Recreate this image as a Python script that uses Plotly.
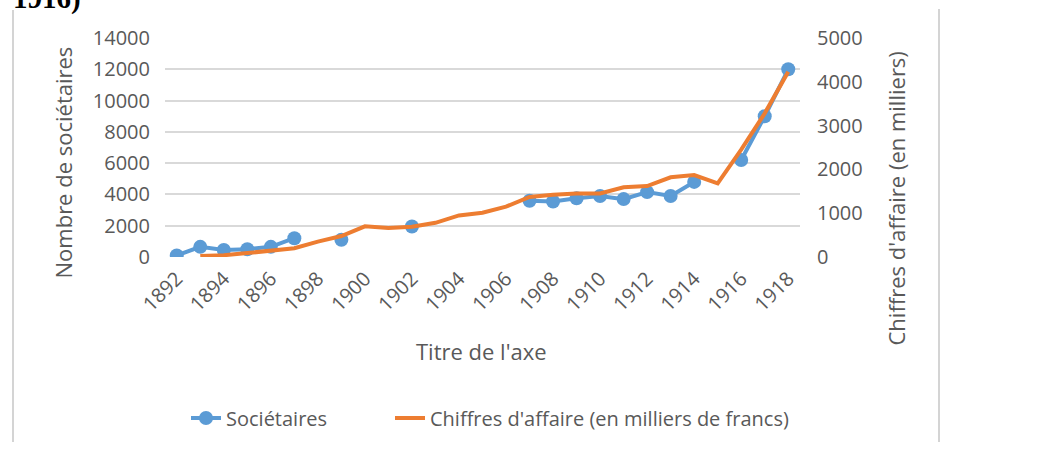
import plotly.graph_objects as go

years = list(range(1892, 1919))
societaires = [100, 650, 450, 500, 650, 1200, None, 1100, None, None, 1950,
               None, None, None, None, 3600, 3550, 3750, 3900, 3700, 4150,
               3900, 4800, None, 6200, 9000, 12000]
chiffres = [None, 20, 40, 90, 150, 200, 350, 480, 700, 660, 690, 780, 950,
            1010, 1150, 1370, 1420, 1450, 1450, 1590, 1620, 1820, 1870, 1680,
            2450, 3280, 4230]
x_ticks = list(range(1892, 1919, 2))
left_ticks = list(range(0, 14001, 2000))
right_ticks = list(range(0, 5001, 1000))

W, H = 1042, 463
L, R, T, B = 165, 800, 38, 257
PW, PH = R - L, B - T

def px(x):
    return (x - L) / PW

def py(y):
    return (B - y) / PH

FONT = "Open Sans"
GREY = "#595959"
TICK = 20

fig = go.Figure()
fig.add_trace(go.Scatter(
    x=years, y=societaires, name="Sociétaires", mode="lines+markers",
    line=dict(color="#5B9BD5", width=4), marker=dict(size=14, color="#5B9BD5"),
    connectgaps=False, legend="legend", showlegend=True))
fig.add_trace(go.Scatter(
    x=years, y=chiffres, name="Chiffres d'affaire (en milliers de francs)",
    mode="lines", line=dict(color="#ED7D31", width=4), yaxis="y2",
    connectgaps=False, legend="legend2", showlegend=True))

fig.update_layout(
    width=W, height=H, showlegend=True,
    margin=dict(l=L, r=W - R, t=T, b=H - B, autoexpand=False),
    paper_bgcolor="white", plot_bgcolor="white",
    font=dict(family=FONT, color=GREY, size=TICK),
    xaxis=dict(range=[1891.5, 1918.5], tickvals=x_ticks,
               ticktext=[str(v) for v in x_ticks], tickangle=-45,
               showgrid=False, zeroline=False, showline=False, ticks="",
               ticklabelstandoff=5,
               tickfont=dict(size=TICK, color=GREY), automargin=False),
    yaxis=dict(range=[0, 14000], tickvals=left_ticks,
               ticktext=[str(v) for v in left_ticks], showgrid=True,
               gridcolor="#d9d9d9", gridwidth=1.5, zeroline=False,
               showline=False, ticks="", ticklabelstandoff=14,
               tickfont=dict(size=TICK, color=GREY), automargin=False),
    yaxis2=dict(range=[0, 5000], tickvals=right_ticks,
                ticktext=[str(v) for v in right_ticks], overlaying="y",
                side="right", showgrid=False, zeroline=False, showline=False,
                ticks="", ticklabelstandoff=16,
                tickfont=dict(size=TICK, color=GREY), automargin=False),
    legend=dict(orientation="h", x=px(186), y=py(418), xanchor="left",
                yanchor="middle", font=dict(size=20, color=GREY),
                bgcolor="rgba(0,0,0,0)"),
    legend2=dict(orientation="h", x=px(390), y=py(418), xanchor="left",
                 yanchor="middle", font=dict(size=20, color=GREY),
                 bgcolor="rgba(0,0,0,0)"),
    annotations=[
        dict(text="Nombre de sociétaires", x=px(62), y=py(162.5),
             xref="paper", yref="paper", textangle=-90, showarrow=False,
             xanchor="center", yanchor="middle",
             font=dict(size=22, color=GREY)),
        dict(text="Chiffres d'affaire (en milliers)", x=px(895), y=py(198.5),
             xref="paper", yref="paper", textangle=-90, showarrow=False,
             xanchor="center", yanchor="middle",
             font=dict(size=22, color=GREY)),
        dict(text="Titre de l'axe", x=px(481), y=py(351), xref="paper",
             yref="paper", showarrow=False, xanchor="center",
             yanchor="middle", font=dict(size=22, color=GREY)),
        dict(text="<b>1916)</b>", x=px(11), y=py(-1), xref="paper",
             yref="paper", showarrow=False, xanchor="left",
             yanchor="middle",
             font=dict(size=29, color="black", family="Liberation Serif")),
    ],
    shapes=[
        dict(type="line", xref="paper", yref="paper", x0=px(13), x1=px(13),
             y0=py(10), y1=py(442), line=dict(color="#d4d4d4", width=2)),
        dict(type="line", xref="paper", yref="paper", x0=px(939), x1=px(939),
             y0=py(9), y1=py(442), line=dict(color="#d4d4d4", width=2)),
    ],
)

fig.write_html(
    "out.html",
    config={"displayModeBar": False},
    post_script="document.body.style.margin='0';document.body.style.overflow='hidden';",
)
